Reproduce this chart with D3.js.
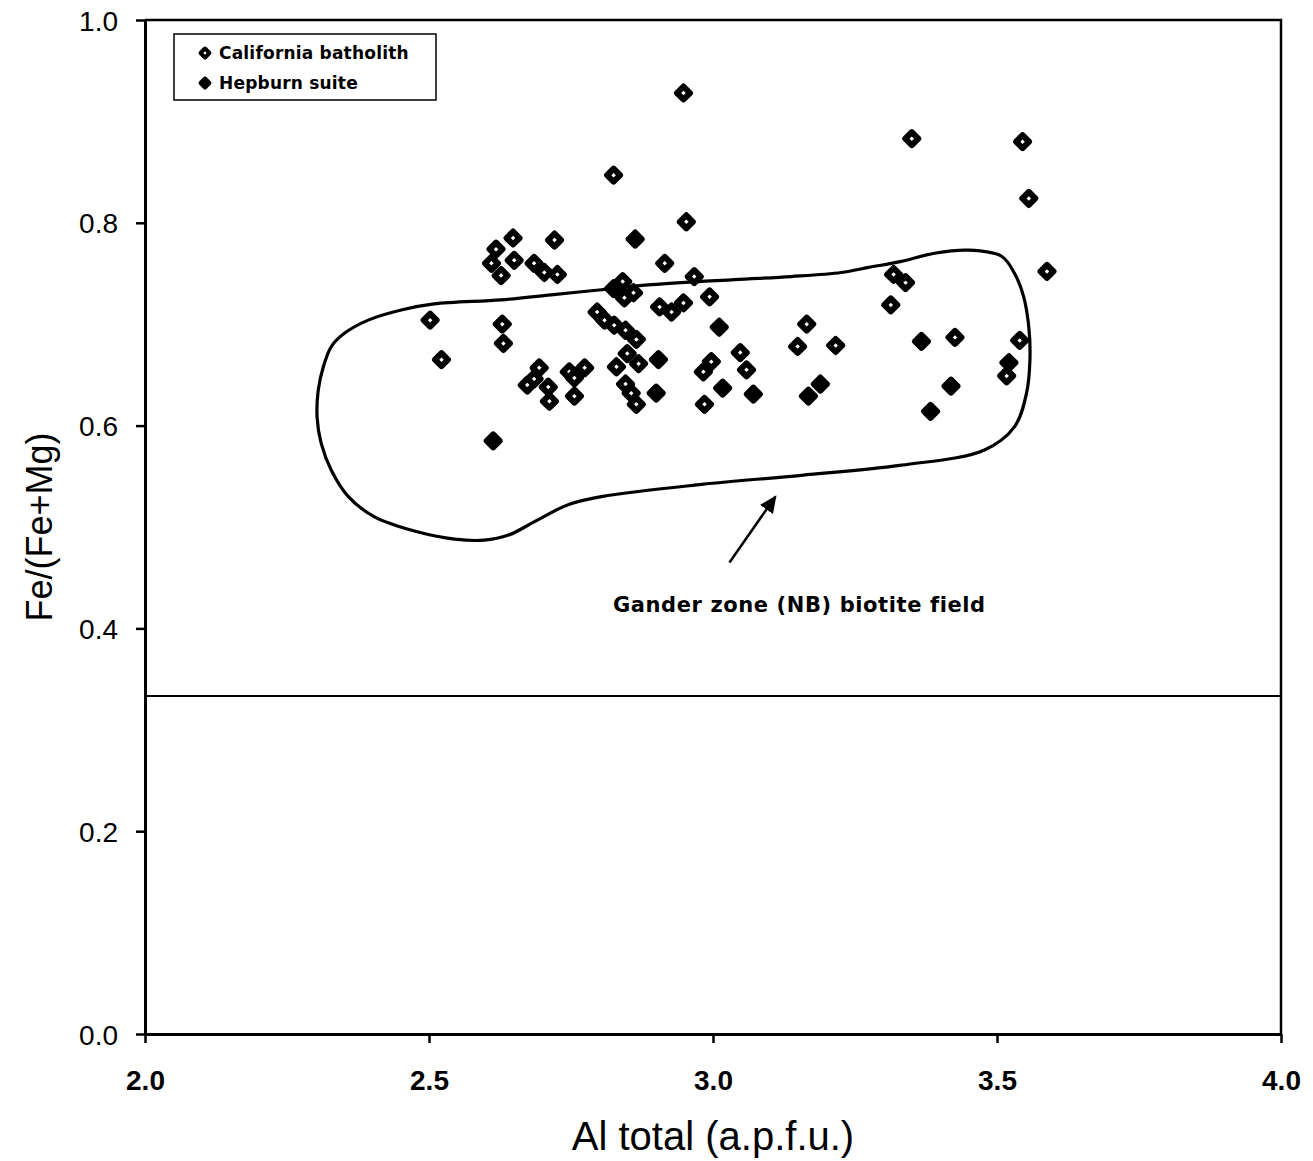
<!DOCTYPE html>
<html>
<head>
<meta charset="utf-8">
<script src="https://cdn.jsdelivr.net/npm/d3@7"></script>
<style>
  body { margin: 0; background: #fff; }
  svg { font-family: Arial, "Liberation Sans", sans-serif; }
</style>
</head>
<body>
<svg id="chart"></svg>
<script>
const width = 1313;
const height = 1161;

// California batholith (open diamonds): [Al total, Fe/(Fe+Mg)]
const california = [
  [2.948, 0.928], [2.825, 0.847], [2.953, 0.801], [2.648, 0.785], [2.721, 0.783],
  [2.618, 0.774], [2.610, 0.760], [2.650, 0.763], [2.685, 0.760], [2.703, 0.751],
  [2.726, 0.749], [2.627, 0.748], [2.915, 0.760], [2.967, 0.747], [2.841, 0.742],
  [2.844, 0.726], [2.860, 0.731], [2.994, 0.727], [2.906, 0.717], [2.927, 0.712],
  [2.948, 0.721], [2.796, 0.712], [2.809, 0.704], [2.826, 0.699], [2.846, 0.694],
  [2.865, 0.685], [2.502, 0.704], [2.629, 0.700], [2.631, 0.681], [2.522, 0.665],
  [2.694, 0.657], [2.685, 0.646], [2.673, 0.640], [2.710, 0.638], [2.712, 0.624],
  [2.747, 0.653], [2.774, 0.657], [2.756, 0.647], [2.756, 0.629], [2.849, 0.671],
  [2.869, 0.661], [2.830, 0.658], [2.846, 0.641], [2.856, 0.632], [2.865, 0.621],
  [2.997, 0.663], [2.983, 0.653], [2.985, 0.621], [3.048, 0.672], [3.059, 0.655],
  [3.165, 0.700], [3.149, 0.678], [3.216, 0.679], [3.350, 0.883], [3.545, 0.880],
  [3.556, 0.824], [3.588, 0.752], [3.318, 0.749], [3.339, 0.741], [3.313, 0.719],
  [3.426, 0.687], [3.540, 0.684], [3.517, 0.649]
];

// Hepburn suite (filled diamonds)
const hepburn = [
  [2.863, 0.784], [2.825, 0.735], [2.904, 0.665], [2.900, 0.632], [3.011, 0.697],
  [3.017, 0.637], [3.071, 0.631], [3.189, 0.641], [3.168, 0.629], [3.367, 0.683],
  [3.521, 0.662], [3.419, 0.639], [3.383, 0.614], [2.613, 0.585]
];

// Gander zone (NB) biotite field outline
const ganderField = [
  [2.393, 0.704], [2.451, 0.714], [2.509, 0.720], [2.627, 0.724], [2.715, 0.729],
  [2.804, 0.734], [2.892, 0.739], [3.038, 0.744], [3.138, 0.747], [3.226, 0.751],
  [3.274, 0.756], [3.332, 0.762], [3.390, 0.770], [3.450, 0.773], [3.508, 0.767],
  [3.531, 0.750], [3.547, 0.727], [3.556, 0.697], [3.558, 0.665], [3.552, 0.632],
  [3.531, 0.599], [3.478, 0.576], [3.332, 0.561], [3.156, 0.551], [2.980, 0.542],
  [2.804, 0.530], [2.745, 0.522], [2.685, 0.505], [2.640, 0.492], [2.597, 0.487],
  [2.545, 0.488], [2.481, 0.495], [2.404, 0.510], [2.358, 0.530], [2.328, 0.556],
  [2.310, 0.583], [2.303, 0.608], [2.305, 0.635], [2.314, 0.658], [2.328, 0.678],
  [2.351, 0.691]
];

const xTicks = [2.0, 2.5, 3.0, 3.5, 4.0];
const yTicks = [0.0, 0.2, 0.4, 0.6, 0.8, 1.0];
const limitLine = 1 / 3;
const arrow = [[3.029, 0.465], [3.110, 0.530]];
const fieldLabel = { x: 3.152, y: 0.424, text: "Gander zone (NB) biotite field" };

const svg = d3.select("#chart").attr("width", width).attr("height", height);

const x = d3.scaleLinear().domain([2, 4]).range([145, 1281]);
const y = d3.scaleLinear().domain([0, 1]).range([1034, 20]);

svg.append("defs").append("marker")
  .attr("id", "arrowhead")
  .attr("viewBox", "0 0 10 10")
  .attr("refX", 9).attr("refY", 5)
  .attr("markerWidth", 7).attr("markerHeight", 7)
  .attr("markerUnits", "strokeWidth")
  .attr("orient", "auto")
  .append("path").attr("d", "M0,0.5 L10,5 L0,9.5 Z").attr("fill", "#000");

// frame: top and right borders
svg.append("path")
  .attr("d", `M${x(2)},${y(1)} H${x(4)} V${y(0)}`)
  .attr("fill", "none").attr("stroke", "#000").attr("stroke-width", 2.5);

const xAxis = svg.append("g")
  .attr("transform", `translate(0,${y(0)})`)
  .call(d3.axisBottom(x).tickValues(xTicks).tickFormat(d3.format(".1f")).tickSize(9).tickSizeOuter(0));
const yAxis = svg.append("g")
  .attr("transform", `translate(${x(2)},0)`)
  .call(d3.axisLeft(y).tickValues(yTicks).tickFormat(d3.format(".1f")).tickSize(9).tickSizeOuter(0));

[xAxis, yAxis].forEach((g) => {
  g.select(".domain").attr("stroke-width", 3);
  g.selectAll(".tick line").attr("stroke-width", 2.5);
  g.selectAll(".tick text").attr("font-size", 28).attr("fill", "#000")
    .attr("font-family", "Arial, 'Liberation Sans', sans-serif");
});
xAxis.selectAll(".tick text").attr("y", 56).attr("dy", 0).attr("font-weight", "bold");
yAxis.selectAll(".tick text").attr("x", -27).attr("dy", "0.36em");

// axis titles
svg.append("text")
  .attr("x", x(3)).attr("y", 1150)
  .attr("text-anchor", "middle").attr("font-size", 40)
  .text("Al total (a.p.f.u.)");
svg.append("text")
  .attr("transform", `translate(52,${y(0.5)}) rotate(-90)`)
  .attr("text-anchor", "middle").attr("font-size", 36)
  .text("Fe/(Fe+Mg)");

// horizontal line at Fe/(Fe+Mg) = 1/3
svg.append("line")
  .attr("x1", x(2)).attr("x2", x(4))
  .attr("y1", y(limitLine)).attr("y2", y(limitLine))
  .attr("stroke", "#000").attr("stroke-width", 2.2);

// field outline
const fieldLine = d3.line().x((d) => x(d[0])).y((d) => y(d[1])).curve(d3.curveCatmullRomClosed.alpha(0.5));
svg.append("path")
  .attr("d", fieldLine(ganderField))
  .attr("fill", "none").attr("stroke", "#000").attr("stroke-width", 3.2);

// arrow + label
svg.append("line")
  .attr("x1", x(arrow[0][0])).attr("y1", y(arrow[0][1]))
  .attr("x2", x(arrow[1][0])).attr("y2", y(arrow[1][1]))
  .attr("stroke", "#000").attr("stroke-width", 2.5)
  .attr("marker-end", "url(#arrowhead)");
svg.append("text")
  .attr("x", x(fieldLabel.x)).attr("y", y(fieldLabel.y) + 8)
  .attr("text-anchor", "middle").attr("font-size", 21).attr("font-weight", "bold")
  .attr("font-family", "'DejaVu Sans', sans-serif").attr("letter-spacing", 0.6)
  .text(fieldLabel.text);

const diamond = d3.symbol(d3.symbolSquare, 84);

svg.selectAll(".cal")
  .data(california)
  .enter()
  .append("path")
  .attr("class", "cal")
  .attr("d", diamond)
  .attr("transform", (d) => `translate(${x(d[0])},${y(d[1])}) rotate(45)`)
  .attr("fill", "#fff").attr("stroke", "#000").attr("stroke-width", 6)
  .attr("stroke-linejoin", "round");

svg.selectAll(".hep")
  .data(hepburn)
  .enter()
  .append("path")
  .attr("class", "hep")
  .attr("d", diamond)
  .attr("transform", (d) => `translate(${x(d[0])},${y(d[1])}) rotate(45)`)
  .attr("fill", "#000").attr("stroke", "#000").attr("stroke-width", 6)
  .attr("stroke-linejoin", "round");

// legend
const legend = svg.append("g");
legend.append("rect")
  .attr("x", 174).attr("y", 34).attr("width", 262).attr("height", 66)
  .attr("fill", "#fff").attr("stroke", "#000").attr("stroke-width", 1.5);
const legendItems = [
  { label: "California batholith", fill: "#fff" },
  { label: "Hepburn suite", fill: "#000" }
];
const legendRow = legend.selectAll(".row")
  .data(legendItems)
  .enter()
  .append("g")
  .attr("transform", (d, i) => `translate(205,${53 + i * 30})`);
legendRow.append("path")
  .attr("d", d3.symbol(d3.symbolSquare, 40))
  .attr("transform", "rotate(45)")
  .attr("fill", (d) => d.fill).attr("stroke", "#000").attr("stroke-width", 4)
  .attr("stroke-linejoin", "round");
legendRow.append("text")
  .attr("x", 14).attr("y", 6)
  .attr("font-size", 17).attr("font-weight", "bold")
  .attr("font-family", "'DejaVu Sans', sans-serif").attr("letter-spacing", 0.2)
  .text((d) => d.label);
</script>
</body>
</html>
